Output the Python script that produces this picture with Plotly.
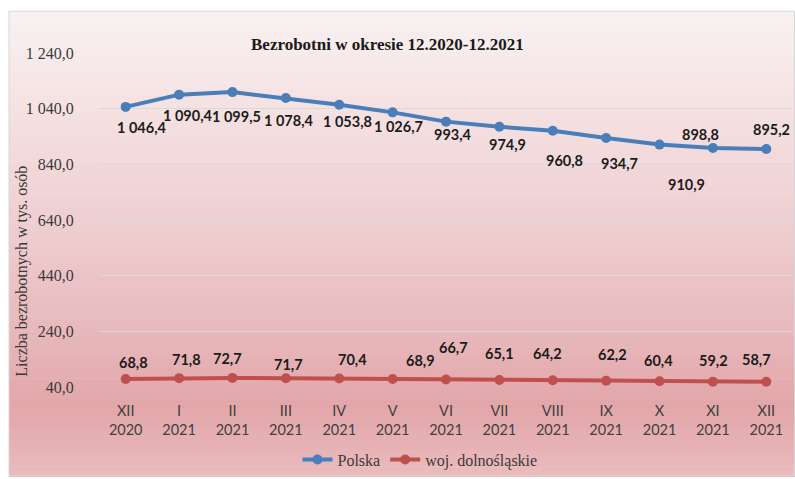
import plotly.graph_objects as go

# --- data ---------------------------------------------------------------
months = ["XII", "I", "II", "III", "IV", "V", "VI", "VII", "VIII", "IX", "X", "XI", "XII"]
years = ["2020"] + ["2021"] * 12
polska = [1046.4, 1090.4, 1099.5, 1078.4, 1053.8, 1026.7, 993.4,
          974.9, 960.8, 934.7, 910.9, 898.8, 895.2]
dolnoslaskie = [68.8, 71.8, 72.7, 71.7, 70.4, 68.9, 66.7,
                65.1, 64.2, 62.2, 60.4, 59.2, 58.7]
y_ticks = [40, 240, 440, 640, 840, 1040, 1240]

# label nudges in pixels (x right, y up)
polska_dx = [16, 9, 4, 3, 8, 6, 7, 8, 12, 13, 27, -12, 5]
polska_dy = [-21, -21, -24, -23, -17, -14, -13, -18, -30, -26, -40, 13, 19]
dolno_dx = [8, 7, -5, 3, 13, 28, 7, 0, -5, 6, -1, 1, -10]
dolno_dy = [16, 19, 19, 14, 19, 18, 32, 27, 27, 26, 21, 21, 22]

W, H = 795, 479
L, R, T, B = 99, 2, 53, 90
PW, PH = W - L - R, H - T - B

BLUE = "#4A7EBB"
RED = "#C0504D"
SERIF = "Liberation Serif"
SANS = "Lato"


def pl(v):
    """Polish number format: space thousands, comma decimal."""
    return f"{v:,.1f}".replace(",", " ").replace(".", ",")


def px_x(p):
    return (p - L) / PW


def px_y(p):
    return (H - B - p) / PH


xs = list(range(len(months)))
tick_text = [f"{m}<br>{y}" for m, y in zip(months, years)]

fig = go.Figure()
fig.add_trace(go.Scatter(
    x=xs, y=polska, name="Polska", mode="lines+markers",
    line=dict(color=BLUE, width=4), marker=dict(size=10, color=BLUE),
    hoverinfo="skip"))
fig.add_trace(go.Scatter(
    x=xs, y=dolnoslaskie, name="woj. dolnośląskie", mode="lines+markers",
    line=dict(color=RED, width=4), marker=dict(size=10, color=RED),
    hoverinfo="skip"))

annotations = []
for i, v in enumerate(polska):
    annotations.append(dict(
        x=i, y=v, xref="x", yref="y", text=f"<b>{pl(v)}</b>", showarrow=False,
        xshift=polska_dx[i], yshift=polska_dy[i],
        font=dict(family=SANS, size=14.5, color="#1c1c1c")))
for i, v in enumerate(dolnoslaskie):
    annotations.append(dict(
        x=i, y=v, xref="x", yref="y", text=f"<b>{pl(v)}</b>", showarrow=False,
        xshift=dolno_dx[i], yshift=dolno_dy[i],
        font=dict(family=SANS, size=14.5, color="#1c1c1c")))

annotations.append(dict(
    x=px_x(387), y=px_y(44), xref="paper", yref="paper",
    text="<b>Bezrobotni w okresie 12.2020-12.2021</b>", showarrow=False,
    xanchor="center", yanchor="middle",
    font=dict(family=SERIF, size=17, color="#1a1a1a")))
annotations.append(dict(
    x=px_x(22), y=px_y(273), xref="paper", yref="paper",
    text="Liczba bezrobotnych w tys. osób", showarrow=False, textangle=-90,
    xanchor="center", yanchor="middle",
    font=dict(family=SERIF, size=16, color="#3a3a3a")))

# vertical gradient panel behind the chart, built from thin strips
stops = [(0.00, (249, 241, 241)), (0.20, (245, 226, 227)), (0.45, (239, 207, 209)),
         (0.70, (231, 183, 186)), (0.85, (226, 166, 170)), (1.00, (234, 187, 189))]


def grad(t):
    for (t0, c0), (t1, c1) in zip(stops[:-1], stops[1:]):
        if t <= t1:
            f = (t - t0) / (t1 - t0) if t1 > t0 else 0
            return tuple(round(a + (b - a) * f) for a, b in zip(c0, c1))
    return stops[-1][1]


top_px, bot_px, left_px, right_px = 11, 479, 9, 795
n = 90
shapes = []
for k in range(n):
    y0 = top_px + (bot_px - top_px) * k / n
    y1 = top_px + (bot_px - top_px) * (k + 1) / n + 0.6
    c = grad((k + 0.5) / n)
    shapes.append(dict(
        type="rect", xref="paper", yref="paper", layer="below",
        x0=px_x(left_px), x1=px_x(right_px), y0=px_y(y1), y1=px_y(y0),
        fillcolor=f"rgb{c}", line=dict(width=0)))
shapes.append(dict(
    type="rect", xref="paper", yref="paper", layer="below",
    x0=px_x(left_px), x1=px_x(right_px - 0.5), y0=px_y(bot_px - 0.5), y1=px_y(top_px),
    fillcolor="rgba(0,0,0,0)", line=dict(width=1, color="#d6d6d6")))

fig.update_layout(
    width=W, height=H, autosize=False,
    margin=dict(l=L, r=R, t=T, b=B, pad=0),
    paper_bgcolor="white", plot_bgcolor="rgba(0,0,0,0)",
    separators=", ",
    showlegend=True,
    legend=dict(orientation="h", x=px_x(420), y=px_y(462),
                xanchor="center", yanchor="middle",
                bgcolor="rgba(0,0,0,0)",
                font=dict(family=SERIF, size=16, color="#3a3a3a")),
    annotations=annotations,
    shapes=shapes,
    xaxis=dict(range=[-0.5, len(months) - 0.5], tickmode="array",
               tickvals=xs, ticktext=tick_text, showgrid=False, zeroline=False,
               showline=False, ticks="outside", ticklen=11,
               tickcolor="rgba(0,0,0,0)",
               tickfont=dict(family=SANS, size=14.5, color="#404040")),
    yaxis=dict(range=[40, 1240], tickmode="array", tickvals=y_ticks,
               tickformat=",.1f", showgrid=True, gridcolor="#d9d9d9",
               gridwidth=1, zeroline=False, showline=False,
               ticks="outside", ticklen=21, tickcolor="rgba(0,0,0,0)",
               tickfont=dict(family=SERIF, size=16, color="#3a3a3a")),
)

fig.write_html("out.html")
